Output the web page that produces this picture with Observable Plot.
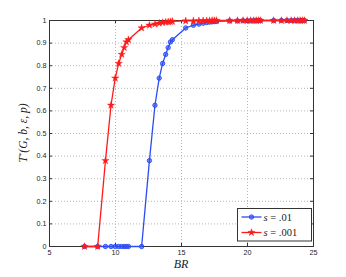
<!DOCTYPE html>
<html>
<head>
<meta charset="utf-8">
<script src="https://cdn.jsdelivr.net/npm/d3@7"></script>
<script src="https://cdn.jsdelivr.net/npm/@observablehq/plot@0.6"></script>
<style>
  html, body { margin: 0; padding: 0; background: #fff; }
  #chart { width: 346px; height: 277px; }
</style>
</head>
<body>
<div id="chart"></div>
<script>
// ---- data ----
const xTicks = [5, 10, 15, 20, 25];
const yTicks = [0, 0.1, 0.2, 0.3, 0.4, 0.5, 0.6, 0.7, 0.8, 0.9, 1];
const gridXTicks = [10, 15, 20];
const gridYTicks = [0.1, 0.2, 0.3, 0.4, 0.5, 0.6, 0.7, 0.8, 0.9];

const br = [
  7.65, 8.65, 9.24, 9.66, 9.98, 10.24, 10.47, 10.66, 10.83, 10.98,
  11.98, 12.57, 12.99, 13.31, 13.57, 13.80, 13.99, 14.16, 14.31,
  15.32, 15.90, 16.32, 16.64, 16.91, 17.13, 17.32, 17.49, 17.65,
  18.65, 19.24, 19.66, 19.98, 20.24, 20.47, 20.66, 20.83, 20.98,
  21.98, 22.57, 22.99, 23.31, 23.57, 23.80, 23.99, 24.16, 24.31
];
const tS001 = [
  0, 0, 0.38, 0.625, 0.745, 0.81, 0.85, 0.88, 0.905, 0.915,
  0.967, 0.979, 0.984, 0.988, 0.991, 0.993, 0.994, 0.995, 0.996,
  0.998, 0.998, 0.999, 0.999, 0.999, 0.999, 1, 1, 1,
  1, 1, 1, 1, 1, 1, 1, 1, 1,
  1, 1, 1, 1, 1, 1, 1, 1, 1
];
const tS01 = [
  0, 0, 0, 0, 0, 0, 0, 0, 0, 0,
  0, 0.38, 0.625, 0.745, 0.81, 0.85, 0.88, 0.905, 0.915,
  0.967, 0.979, 0.984, 0.988, 0.991, 0.993, 0.994, 0.995, 0.996,
  0.998, 0.998, 0.999, 0.999, 0.999, 0.999, 1, 1, 1,
  1, 1, 1, 1, 1, 1, 1, 1, 1
];
const seriesVar = "s";
const seriesValues = [".01", ".001"];
const seriesColors = ["#2b4cf2", "#ff1a1a"];

const blue = br.map((x, i) => ({x, y: tS01[i]}));
const red = br.map((x, i) => ({x, y: tS001[i]}));

const W = 346, H = 277;
const mL = 49, mR = 33, mT = 20, mB = 31;
const pw = W - mL - mR, ph = H - mT - mB;

const fmt = d => String(+d.toFixed(1));
const starR = 2.3;

const svg = Plot.plot({
  width: W, height: H,
  marginLeft: mL, marginRight: mR, marginTop: mT, marginBottom: mB,
  x: {domain: [5, 25]},
  y: {domain: [0, 1]},
  style: {fontFamily: "'Liberation Sans', Arial, sans-serif", fontSize: "7.2px", background: "#fff", color: "#222"},
  marks: [
    Plot.gridX(gridXTicks, {stroke: "#b5b5b5", strokeOpacity: 1, strokeDasharray: "1,2"}),
    Plot.gridY(gridYTicks, {stroke: "#b5b5b5", strokeOpacity: 1, strokeDasharray: "1,2"}),
    Plot.axisX(xTicks, {anchor: "bottom", tickSize: 0, tickPadding: 3.5, tickFormat: fmt, label: null}),
    Plot.axisY(yTicks, {anchor: "left", tickSize: 0, tickPadding: 3, tickFormat: fmt, label: null}),
    Plot.tickX(xTicks, {x: d => d, insetTop: ph - 3, stroke: "#333"}),
    Plot.tickX(xTicks, {x: d => d, insetBottom: ph - 3, stroke: "#333"}),
    Plot.tickY(yTicks, {y: d => d, insetRight: pw - 3, stroke: "#333"}),
    Plot.tickY(yTicks, {y: d => d, insetLeft: pw - 3, stroke: "#333"}),
    Plot.frame({stroke: "#333", strokeWidth: 1}),
    Plot.line(blue, {x: "x", y: "y", stroke: seriesColors[0], strokeWidth: 1.3}),
    Plot.dot(blue, {x: "x", y: "y", r: 2.2, fill: seriesColors[0], fillOpacity: 0.6, stroke: seriesColors[0], strokeWidth: 0.9}),
    Plot.line(red, {x: "x", y: "y", stroke: seriesColors[1], strokeWidth: 1.3}),
    Plot.dot(red, {x: "x", y: "y", symbol: "star", r: starR, fill: seriesColors[1], stroke: seriesColors[1], strokeWidth: 0.4})
  ]
});

const s = d3.select(svg);
const serif = "'Liberation Serif', 'Times New Roman', serif";

// x label
s.append("text")
  .attr("x", mL + pw / 2).attr("y", 268)
  .attr("text-anchor", "middle")
  .attr("font-family", serif).attr("font-style", "italic").attr("font-size", 12)
  .attr("fill", "#222")
  .text("BR");

// y label
const yl = s.append("text")
  .attr("transform", `translate(27,${mT + ph / 2}) rotate(-90)`)
  .attr("text-anchor", "middle")
  .attr("font-family", serif).attr("font-style", "italic").attr("font-size", 11.5)
  .attr("fill", "#222");
yl.append("tspan").text("T");
yl.append("tspan").attr("dy", -4).attr("font-size", 7).text("*");
yl.append("tspan").attr("dy", 4).text("(G, b, \u03b5, p)");

// legend
const lg = s.append("g");
const lx = 237.5, ly = 208.5, lw = 74, lh = 32.5;
lg.append("rect").attr("x", lx).attr("y", ly).attr("width", lw).attr("height", lh)
  .attr("fill", "#fff").attr("stroke", "#333").attr("stroke-width", 1);
const rows = [ly + 8.5, ly + 24];
seriesValues.forEach((val, i) => {
  const y = rows[i];
  lg.append("line").attr("x1", lx + 4).attr("x2", lx + 24).attr("y1", y).attr("y2", y)
    .attr("stroke", seriesColors[i]).attr("stroke-width", 1.3);
  if (i === 0) {
    lg.append("circle").attr("cx", lx + 14).attr("cy", y).attr("r", 2.2)
      .attr("fill", seriesColors[i]).attr("fill-opacity", 0.6).attr("stroke", seriesColors[i]).attr("stroke-width", 0.9);
  } else {
    lg.append("path").attr("transform", `translate(${lx + 14},${y})`)
      .attr("d", d3.symbol(d3.symbolStar, Math.PI * starR * starR)())
      .attr("fill", seriesColors[i]).attr("stroke", seriesColors[i]).attr("stroke-width", 0.4);
  }
  const t = lg.append("text").attr("x", lx + 26).attr("y", y + 3.5)
    .attr("text-anchor", "start")
    .attr("font-family", serif).attr("font-size", 10.5)
    .attr("fill", "#222");
  t.append("tspan").attr("font-style", "italic").text(seriesVar);
  t.append("tspan").text(" = " + val);
});

document.getElementById("chart").appendChild(svg);
</script>
</body>
</html>
